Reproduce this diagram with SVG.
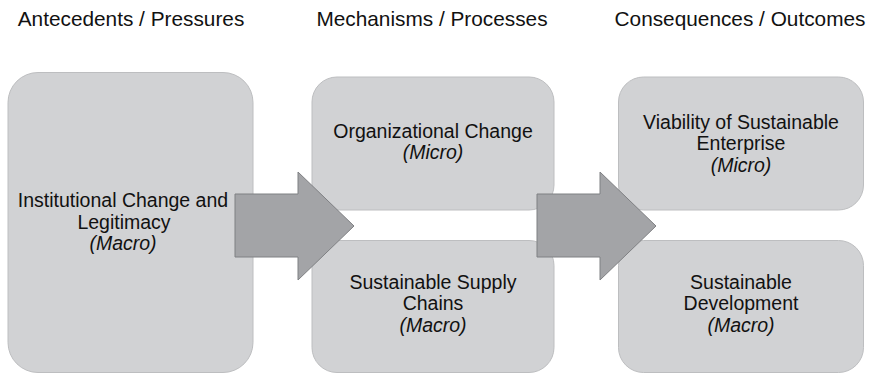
<svg xmlns="http://www.w3.org/2000/svg" width="873" height="374" viewBox="0 0 873 374">
  <style>
    .hdr { font-family: "Liberation Sans", Arial, Helvetica, sans-serif; font-size: 20.8px; fill: #111; text-anchor: middle; }
    .lbl { font-family: "Liberation Sans", Arial, Helvetica, sans-serif; font-size: 19.5px; fill: #111; text-anchor: middle; }
    .lbl .it { font-style: italic; }
    .box { fill: #d1d2d4; stroke: #bdbec0; stroke-width: 1; }
    .arrow { fill: #a3a4a7; stroke: #7f8083; stroke-width: 1; }
  </style>
  <rect width="873" height="374" fill="#ffffff"/>

  <!-- column headings -->
  <g id="headings">
    <text class="hdr" x="131" y="26">Antecedents / Pressures</text>
    <text class="hdr" x="432" y="26">Mechanisms / Processes</text>
    <text class="hdr" x="740" y="26">Consequences / Outcomes</text>
  </g>

  <g id="institutional-change">
    <rect class="box" x="8" y="72.5" width="245" height="300" rx="30" ry="30"/>
    <text class="lbl" x="123" y="207">Institutional Change and</text>
    <text class="lbl" x="124" y="228.5">Legitimacy</text>
    <text class="lbl" x="123" y="250"><tspan class="it">(Macro)</tspan></text>
  </g>

  <g id="organizational-change">
    <rect class="box" x="312" y="77" width="242" height="133" rx="25" ry="25"/>
    <text class="lbl" x="433" y="137.5">Organizational Change</text>
    <text class="lbl" x="433" y="159"><tspan class="it">(Micro)</tspan></text>
  </g>

  <g id="sustainable-supply-chains">
    <rect class="box" x="312" y="240.5" width="242" height="132" rx="25" ry="25"/>
    <text class="lbl" x="433" y="288.5">Sustainable Supply</text>
    <text class="lbl" x="433" y="310">Chains</text>
    <text class="lbl" x="433" y="331.5"><tspan class="it">(Macro)</tspan></text>
  </g>

  <g id="viability">
    <rect class="box" x="618.5" y="77" width="245" height="133" rx="25" ry="25"/>
    <text class="lbl" x="741" y="128.5">Viability of Sustainable</text>
    <text class="lbl" x="741" y="150">Enterprise</text>
    <text class="lbl" x="741" y="171.5"><tspan class="it">(Micro)</tspan></text>
  </g>

  <g id="sustainable-development">
    <rect class="box" x="618.5" y="240.5" width="245" height="132" rx="25" ry="25"/>
    <text class="lbl" x="741" y="288.5">Sustainable</text>
    <text class="lbl" x="741" y="310">Development</text>
    <text class="lbl" x="741" y="331.5"><tspan class="it">(Macro)</tspan></text>
  </g>

  <!-- block arrows between the columns -->
  <g id="connectors">
    <polygon class="arrow" points="235,194 298,194 298,172 354,226 298,280 298,257 235,257"/>
    <polygon class="arrow" points="537,194 600,194 600,172 656,226 600,280 600,257 537,257"/>
  </g>
</svg>
